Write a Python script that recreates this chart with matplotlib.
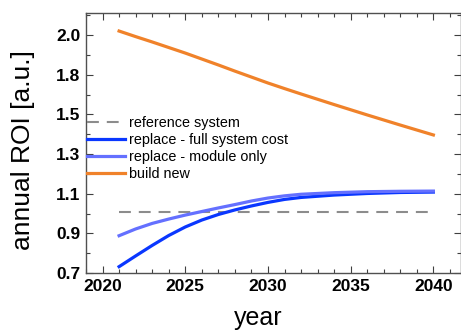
import numpy as np
import matplotlib
matplotlib.use('Agg')
import matplotlib.pyplot as plt
from matplotlib.ticker import FixedLocator, FixedFormatter

plt.rcParams['font.family'] = ['Liberation Sans', 'DejaVu Sans']

# years sampled along the curves
years = [2021, 2022, 2023, 2024, 2025, 2026, 2027, 2028, 2029, 2030, 2031, 2032, 2034, 2036, 2038, 2040]

ref_level = 1.01
roi_full = [0.732, 0.786, 0.839, 0.889, 0.932, 0.967, 0.995, 1.018, 1.038, 1.056, 1.071, 1.081, 1.093, 1.101, 1.106, 1.108]
roi_module = [0.888, 0.922, 0.950, 0.972, 0.992, 1.010, 1.028, 1.045, 1.063, 1.078, 1.089, 1.097, 1.105, 1.110, 1.112, 1.113]
roi_new = [2.020, 1.992, 1.965, 1.937, 1.909, 1.879, 1.849, 1.818, 1.782, 1.737, 1.695, 1.654, 1.574, 1.497, 1.446, 1.396]

ytick_vals = [0.7, 0.9, 1.1, 1.3, 1.5, 1.8, 2.0]
ytick_labels = ['0.7', '0.9', '1.1', '1.3', '1.5', '1.8', '2.0']

# y axis: tick values sit at equal spacing, piecewise linear in between
tv = np.array(ytick_vals)
ti = np.arange(len(tv), dtype=float)
step = 0.2


def fwd(v):
    v = np.asarray(v, dtype=float)
    out = np.interp(v, tv, ti)
    out = np.where(v > tv[-1], ti[-1] + (v - tv[-1]) / step, out)
    out = np.where(v < tv[0], (v - tv[0]) / step, out)
    return out


def inv(k):
    k = np.asarray(k, dtype=float)
    out = np.interp(k, ti, tv)
    out = np.where(k > ti[-1], tv[-1] + (k - ti[-1]) * step, out)
    out = np.where(k < 0, tv[0] + k * step, out)
    return out


c_ref = '#8c8c8c'
c_full = '#0a37ff'
c_mod = '#6470ff'
c_new = '#f0822a'

fig = plt.figure(figsize=(4.61, 3.30), dpi=100)
ax = fig.add_axes([86 / 461, 57 / 330, 375 / 461, 260 / 330])
ax.set_yscale('function', functions=(fwd, inv))

ax.plot([years[0], years[-1]], [ref_level, ref_level], color=c_ref, lw=1.5,
        dashes=(5.7, 3.8), label='reference system')
ax.plot(years, roi_full, color=c_full, lw=2.3, label='replace - full system cost')
ax.plot(years, roi_module, color=c_mod, lw=2.3, label='replace - module only')
ax.plot(years, roi_new, color=c_new, lw=2.3, label='build new')

ax.set_xlim(2019.4, 2041.67)
ax.set_ylim(0.7, float(inv(6.555)))

ax.set_xticks([2020, 2025, 2030, 2035, 2040])
ax.set_xticks(np.arange(2019, 2042), minor=True)
ax.yaxis.set_major_locator(FixedLocator(ytick_vals))
ax.yaxis.set_major_formatter(FixedFormatter(ytick_labels))
ax.yaxis.set_minor_locator(FixedLocator(inv(np.arange(0.5, 6.6, 1.0))))
ax.yaxis.set_minor_formatter(FixedFormatter([]))

for s in ax.spines.values():
    s.set_color('#505050')
    s.set_linewidth(1.0)
ax.tick_params(which='both', direction='in', top=True, right=True,
               color='#404040', width=0.8)
ax.tick_params(which='major', length=5, labelsize=12.5, pad=4)
ax.tick_params(which='minor', length=3)
for lab in ax.get_xticklabels() + ax.get_yticklabels():
    lab.set_fontweight('bold')

ax.legend(loc='upper left', bbox_to_anchor=(0.003, 0.602), frameon=False,
          fontsize=10.4, handlelength=2.6, handletextpad=0.3, labelspacing=0.2,
          borderaxespad=0, borderpad=0)

fig.text(23 / 461, 1 - 150 / 330, 'annual ROI [a.u.]', rotation=90,
         ha='center', va='center', fontsize=19)
fig.text(258 / 461, 5 / 330, 'year', ha='center', va='baseline', fontsize=18)

fig.savefig('out.png', dpi=100)
